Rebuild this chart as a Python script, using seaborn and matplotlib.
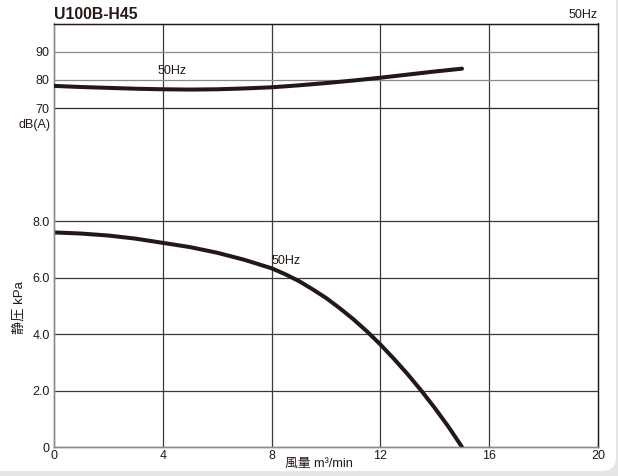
import numpy as np
import pandas as pd
import seaborn as sns
import matplotlib.pyplot as plt
from matplotlib.patches import FancyBboxPatch

# data
flow = [0, 1, 2, 3, 4, 5, 6, 7, 8, 9, 10, 11, 12, 13, 14, 15]
noise_db = [77.9, 77.5, 77.2, 76.9, 76.7, 76.6, 76.7, 77.0, 77.4, 78.1, 78.9, 79.8, 80.8, 81.9, 83.0, 84.0]
flow_p = [0, 1, 2, 3, 4, 5, 6, 7, 8, 8.5, 9, 9.5, 10, 10.5, 11, 11.5, 12, 12.5, 13, 13.5, 14, 14.5, 15]
pressure = [7.6, 7.56, 7.49, 7.38, 7.23, 7.08, 6.88, 6.63, 6.33, 6.12, 5.88, 5.59, 5.28, 4.92,
            4.53, 4.1, 3.63, 3.12, 2.58, 2.0, 1.38, 0.72, 0.0]

x_ticks = [0, 4, 8, 12, 16, 20]
p_ticks = [0, 2, 4, 6, 8]
p_labels = ['0', '2.0', '4.0', '6.0', '8.0']
db_ticks = [70, 80, 90]

df_db = pd.DataFrame({'flow': flow, 'db': noise_db})
df_p = pd.DataFrame({'flow': flow_p, 'kpa': pressure})

sns.set_theme(style='white')
plt.rcParams['font.family'] = ['Liberation Sans', 'Noto Sans CJK JP', 'DejaVu Sans']

ink = '#231815'
fs = 9
fig = plt.figure(figsize=(6.18, 4.76), dpi=100)
fig.patch.set_facecolor('#e6e6e6')
fig.add_artist(FancyBboxPatch((-20, 5), 636, 520, boxstyle='round,pad=0,rounding_size=14',
                              transform=None, fc='white', ec='none', zorder=-10))

ax = fig.add_axes([54 / 618, 29 / 476, 544 / 618, 423.5 / 476])
ax.set_facecolor('none')
ax2 = ax.twinx()

sns.lineplot(data=df_p, x='flow', y='kpa', ax=ax, color=ink, lw=2.9, zorder=5)
sns.lineplot(data=df_db, x='flow', y='db', ax=ax2, color=ink, lw=2.9, zorder=5)

ax.set_xlim(0, 20)
ax.set_ylim(0, 15)
ax2.set_ylim(-50, 100)

ax.set_xticks(x_ticks)
ax.set_yticks(p_ticks)
ax.set_yticklabels(p_labels)
ax2.set_yticks(db_ticks)
ax2.yaxis.tick_left()
ax2.set_ylabel('')

for a in (ax, ax2):
    a.tick_params(length=0, labelsize=fs, labelcolor=ink, pad=3)
ax.tick_params(axis='x', pad=2)

# grid lines
for t in x_ticks[1:-1]:
    ax.axvline(t, color='#3a3a3a', lw=0.9, zorder=1)
for t in p_ticks[1:]:
    ax.axhline(t, color='#3a3a3a', lw=0.9, zorder=1)
for t in db_ticks:
    ax2.axhline(t, color='#2a2a2a' if t == 70 else '#8a8a8a', lw=0.9, zorder=1)

for a in (ax, ax2):
    for side in ['top', 'right']:
        a.spines[side].set_color('#231815')
        a.spines[side].set_linewidth(0.9)
    for side in ['left', 'bottom']:
        a.spines[side].set_color('#8a8a8a')
        a.spines[side].set_linewidth(1.0)

ax.set_xlabel('風量 m³/min', fontsize=9.2, color=ink)
ax.xaxis.set_label_coords(0.487, -0.026)
ax.set_ylabel('静圧 kPa', fontsize=9.5, color=ink)
ax.yaxis.set_label_coords(-0.052, 0.33)

ax2.text(-0.007, 64, 'dB(A)', transform=ax2.get_yaxis_transform(), ha='right', va='center',
         fontsize=fs, color=ink)
ax2.text(3.8, 83.3, '50Hz', fontsize=fs, color=ink, va='center', ha='left')
ax.text(8.0, 6.6, '50Hz', fontsize=fs, color=ink, va='center', ha='left')

ax.text(0, 1.003, 'U100B-H45', transform=ax.transAxes, fontsize=11.3, fontweight='bold',
        color=ink, ha='left', va='bottom')
ax.text(1.0, 1.006, '50Hz', transform=ax.transAxes, fontsize=fs, color=ink, ha='right', va='bottom')

fig.savefig('out.png', dpi=100, facecolor=fig.get_facecolor())
